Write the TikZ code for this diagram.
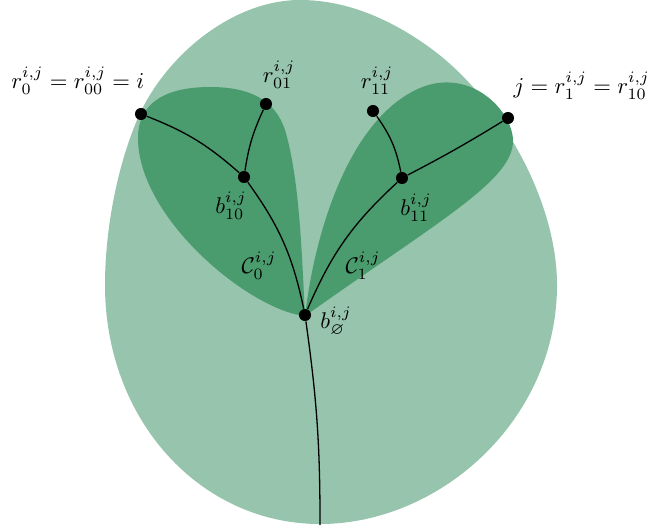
\documentclass[tikz,border=0pt]{standalone}
\usepackage{amssymb}
\definecolor{lightg}{RGB}{150,196,172}
\definecolor{darkg}{RGB}{74,155,110}
\begin{document}
\begin{tikzpicture}[x=0.44pt,y=-0.44pt,
  dot/.style={circle,fill=black,inner sep=0pt,minimum size=5.3pt},
  edge/.style={line width=0.57pt},
  lbl/.style={inner sep=1pt}]
\useasboundingbox (0,0) rectangle (649,529);
% outer region
\fill[lightg] (105,285) .. controls (105,420) and (200,524) .. (320,524)
  .. controls (440,524) and (557,420) .. (557,285)
  .. controls (557,200) and (500,100) .. (433,50)
  .. controls (390,18) and (345,0) .. (300,0)
  .. controls (230,0) and (160,60) .. (135,125)
  .. controls (115,175) and (105,235) .. (105,285) -- cycle;
% left leaf
\fill[darkg] (305,316) .. controls (250,310) and (140,220) .. (138,140)
  .. controls (137,100) and (170,87) .. (210,87)
  .. controls (250,87) and (275,100) .. (285,130)
  .. controls (300,180) and (302,260) .. (305,316) -- cycle;
% right leaf
\fill[darkg] (305,316) .. controls (315,230) and (350,118) .. (420,88)
  .. controls (470,67) and (512,110) .. (513,140)
  .. controls (514,180) and (440,220) .. (305,316) -- cycle;
% nodes
\node[dot] (r0) at (141,114) {};
\node[dot] (r01) at (266,104) {};
\node[dot] (b10) at (244,177) {};
\node[dot] (b0) at (305,315) {};
\node[dot] (r11) at (373,111) {};
\node[dot] (b11) at (402,178) {};
\node[dot] (j) at (508,118) {};
\coordinate (bot) at (320,525);
% edges
\draw[edge] (r0) to[bend left=10] (b10);
\draw[edge] (b10) to[bend left=12] (b0);
\draw[edge] (r01) to[bend right=8] (b10);
\draw[edge] (r11) to[bend left=12] (b11);
\draw[edge] (j) to[bend left=2] (b11);
\draw[edge] (b11) to[bend right=12] (b0);
\draw[edge] (b0) to[bend left=4] (bot);
% labels
\node[lbl,anchor=south east] (lr0) at (147,97) {$r_0^{i,j}=r_{00}^{i,j}=i$};
\node[lbl,anchor=south] (lr01) at (279,91) {$r_{01}^{i,j}$};
\node[lbl] (lb10) at (231,206) {$b_{10}^{i,j}$};
\node[lbl] (lc0) at (259,266) {$\mathcal{C}_0^{i,j}$};
\node[lbl] (lb0) at (336,322) {$b_{\varnothing}^{i,j}$};
\node[lbl,anchor=south] (lr11) at (377,97) {$r_{11}^{i,j}$};
\node[lbl] (lb11) at (416,208) {$b_{11}^{i,j}$};
\node[lbl] (lc1) at (363,266) {$\mathcal{C}_1^{i,j}$};
\node[lbl,anchor=south west] (lj) at (511,102) {$j=r_1^{i,j}=r_{10}^{i,j}$};
\end{tikzpicture}
\end{document}
